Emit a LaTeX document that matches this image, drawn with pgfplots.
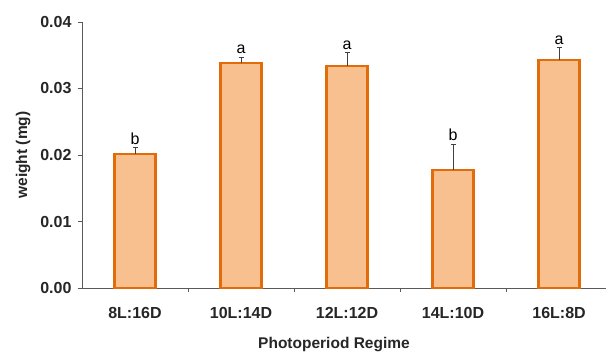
\documentclass[border=0pt]{standalone}
\usepackage{pgfplots}
\pgfplotsset{compat=1.18}
\usepackage{fontspec}
\setmainfont{Liberation Sans}
\definecolor{barfill}{HTML}{F9C08F}
\definecolor{baredge}{HTML}{E36C0A}
\definecolor{axgray}{HTML}{5A5A5A}
\begin{document}
\begin{tikzpicture}
\begin{axis}[
  name=ax,
  scale only axis,
  width=524pt, height=266pt,
  xmin=-0.5, xmax=4.443,
  ymin=0, ymax=0.04,
  axis x line=bottom, axis y line=left,
  axis line style={draw=axgray, line width=0.8pt, -},
  ytick={0,0.01,0.02,0.03,0.04},
  yticklabel style={/pgf/number format/fixed, /pgf/number format/fixed zerofill, /pgf/number format/precision=2, xshift=-3pt},
  scaled y ticks=false,
  /pgf/number format/assume math mode=true,
  xtick={0,1,2,3,4},
  xticklabels={8L:16D,10L:14D,12L:12D,14L:10D,16L:8D},
  minor xtick={0.5,1.5,2.5,3.5},
  major x tick style={draw=none},
  minor x tick style={draw=axgray, line width=0.8pt},
  ytick style={draw=axgray, line width=0.8pt},
  tick align=outside,
  major tick length=4pt, minor tick length=4pt,
  ticklabel style={font=\fontsize{16}{18}\selectfont\bfseries, text=black!85},
  xticklabel style={yshift=-12pt},
  ylabel={weight (mg)},
  xlabel={Photoperiod Regime},
  label style={font=\fontsize{15.5}{18}\selectfont\bfseries, text=black!85},
  ylabel style={at={(axis description cs:0,0.5)}, anchor=south, yshift=48pt},
  xlabel style={at={(axis description cs:0.5,0)}, anchor=north, yshift=-46pt, xshift=-10pt},
  clip=false,
]
\addplot[ybar, bar width=41pt, fill=barfill, draw=baredge, line width=2.2pt,
  error bars/.cd, y dir=plus, y explicit,
  error bar style={draw=black!75, line width=0.7pt},
  error mark options={rotate=90, mark size=2.5pt, draw=black!75, line width=0.7pt}]
coordinates {
  (0,0.02015) +- (0,0.00095)
  (1,0.03388) +- (0,0.0008)
  (2,0.03333) +- (0,0.0021)
  (3,0.0177)  +- (0,0.0039)
  (4,0.03429) +- (0,0.0019)
};
\node[font=\fontsize{16}{18}\selectfont, above, inner sep=3pt] at (axis cs:0,0.0211) {b};
\node[font=\fontsize{16}{18}\selectfont, above, inner sep=3pt] at (axis cs:1,0.0347) {a};
\node[font=\fontsize{16}{18}\selectfont, above, inner sep=3pt] at (axis cs:2,0.0354) {a};
\node[font=\fontsize{16}{18}\selectfont, above, inner sep=3pt] at (axis cs:3,0.02165) {b};
\node[font=\fontsize{16}{18}\selectfont, above, inner sep=3pt] at (axis cs:4,0.03614) {a};
\end{axis}
\pgfresetboundingbox
\path (ax.south west) ++(-82pt,-64pt) rectangle ++(606pt,352pt);
\end{tikzpicture}
\end{document}
